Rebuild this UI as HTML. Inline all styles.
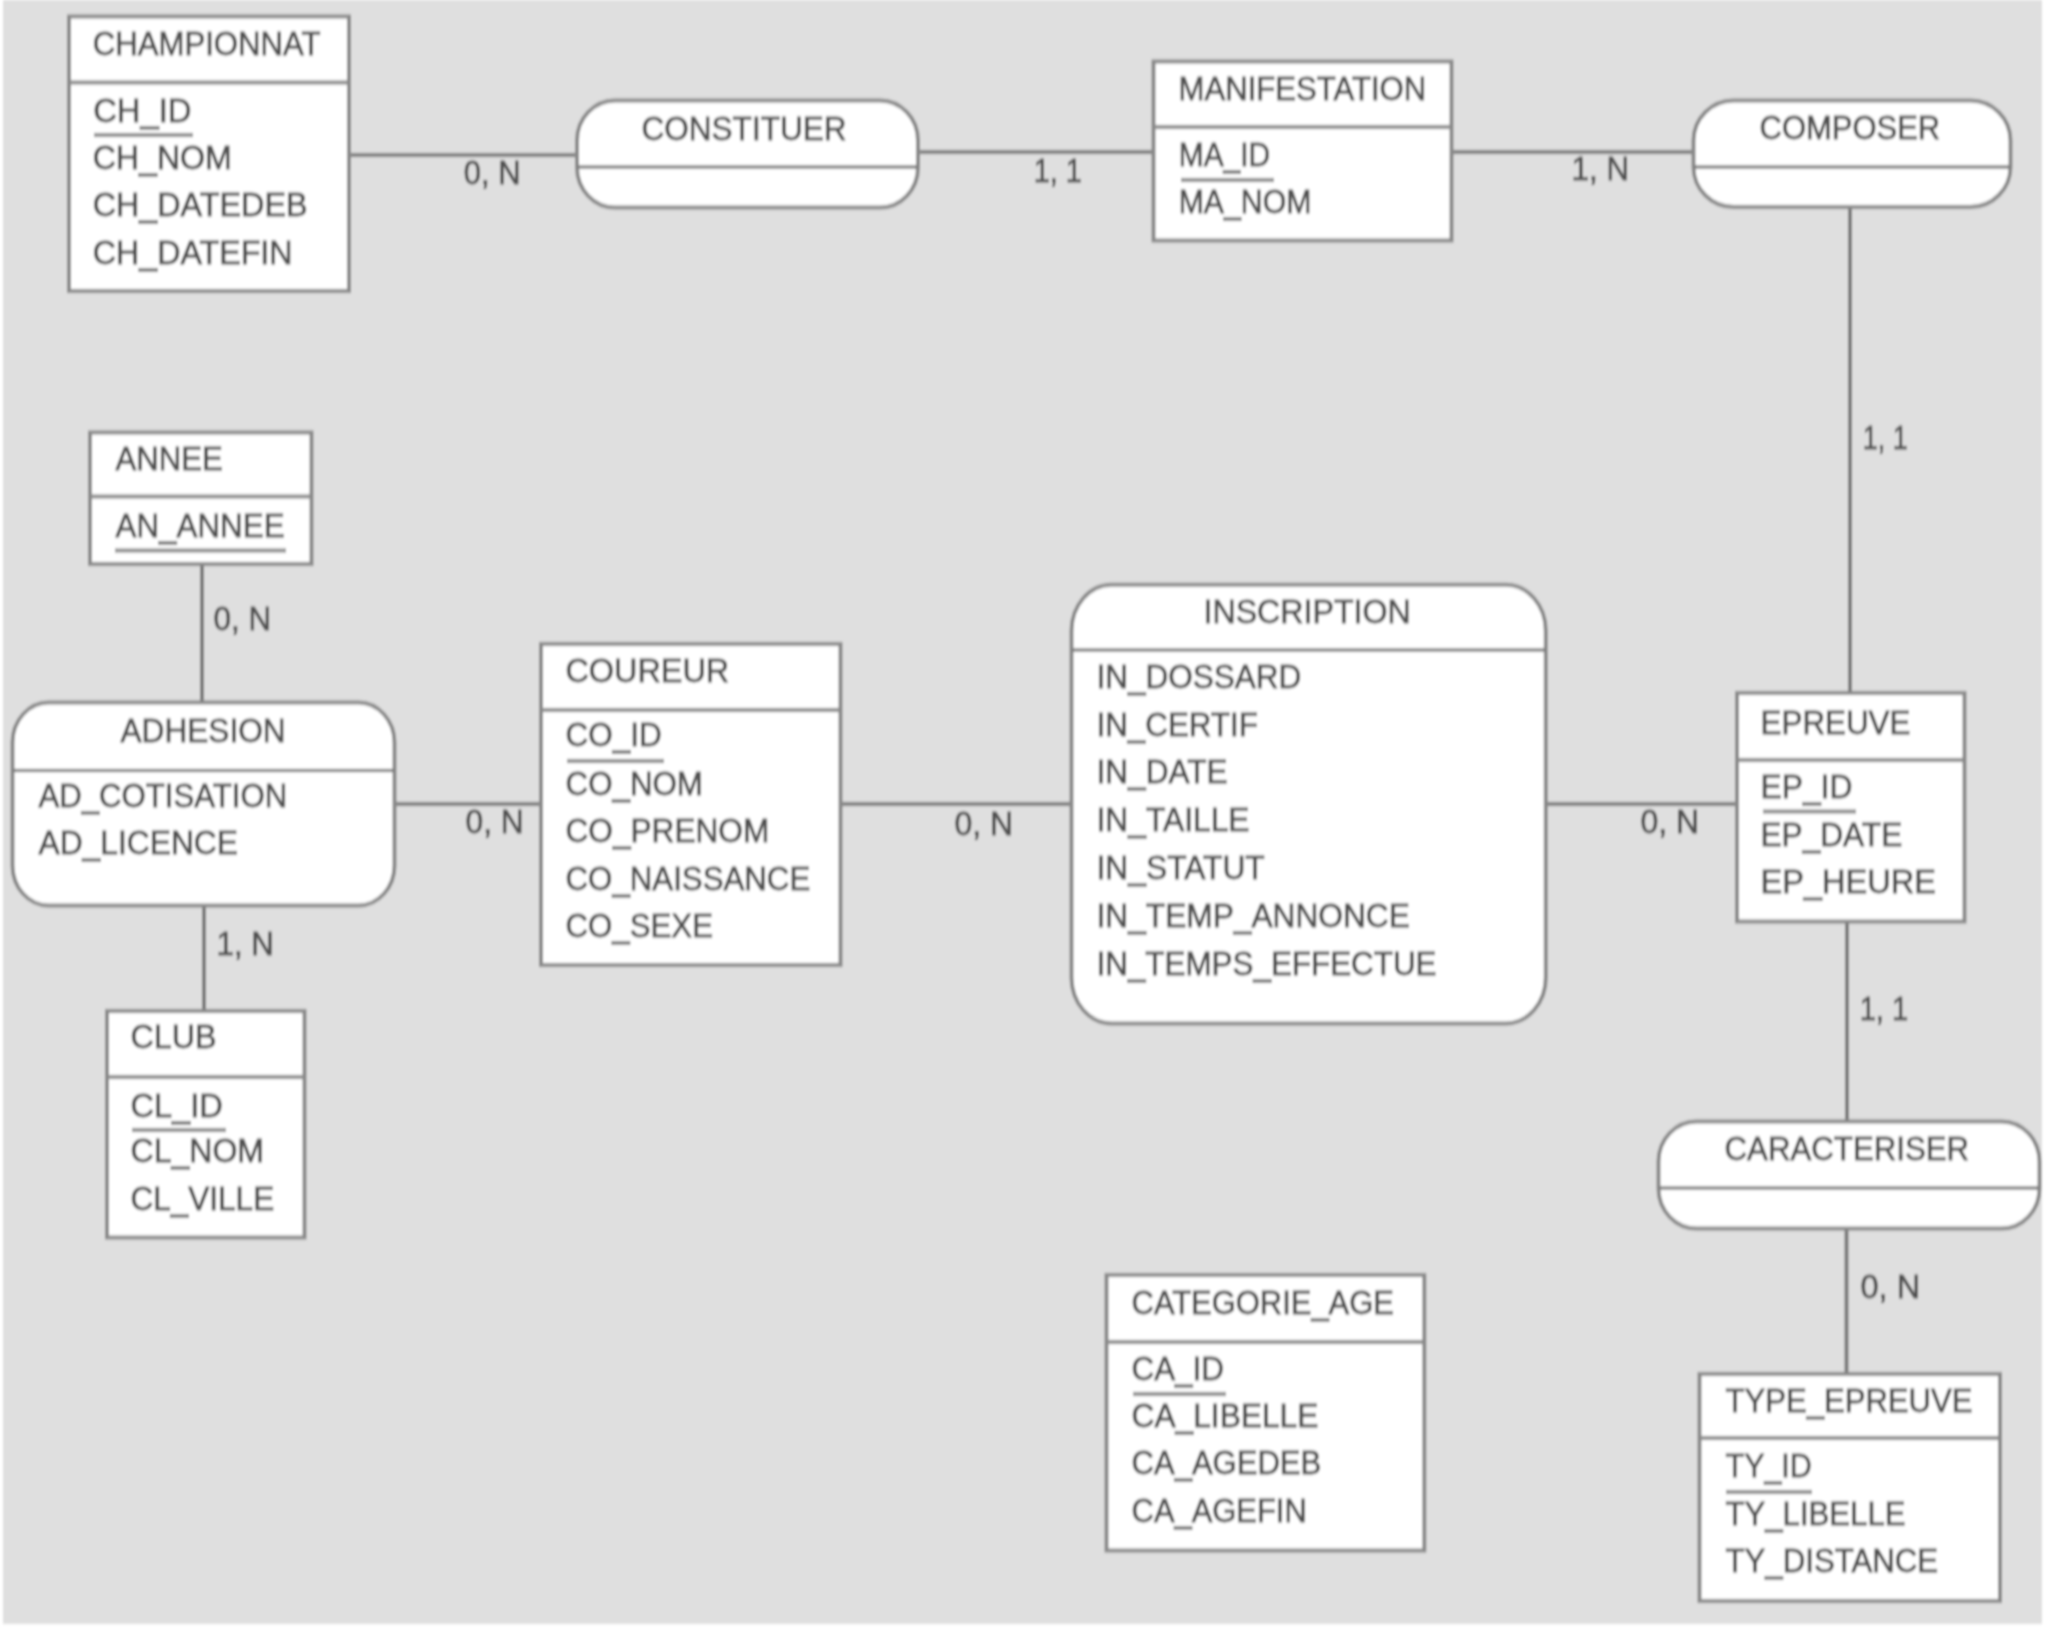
<!DOCTYPE html><html><head><meta charset="utf-8"><style>html,body{margin:0;padding:0;background:#fff;width:2051px;height:1630px;overflow:hidden}svg{display:block}text{font-family:"Liberation Sans",sans-serif;font-size:32px;fill:#505050;stroke:#505050;stroke-width:0.8px}</style></head><body>
<svg width="2051" height="1630" viewBox="0 0 2051 1630">
<defs><filter id="bl" filterUnits="userSpaceOnUse" x="0" y="0" width="2051" height="1630"><feGaussianBlur stdDeviation="0.85 1.4"/></filter></defs>
<g filter="url(#bl)">
<rect x="0" y="0" width="2051" height="1630" fill="#ffffff"/>
<rect x="3" y="0" width="2039" height="1624" fill="#dfdfdf"/>
<g stroke="#7c7c7c" stroke-width="4" fill="none">
<line x1="349.5" y1="155" x2="578.5" y2="155"/>
<line x1="916.5" y1="152" x2="1153.5" y2="152"/>
<line x1="1451.5" y1="152" x2="1694.5" y2="152"/>
<line x1="1850" y1="206.5" x2="1850" y2="693.5"/>
<line x1="202" y1="563.5" x2="202" y2="703.5"/>
<line x1="204" y1="904.5" x2="204" y2="1011.5"/>
<line x1="393.5" y1="804" x2="541.5" y2="804"/>
<line x1="839.5" y1="804" x2="1072.5" y2="804"/>
<line x1="1545.5" y1="804" x2="1737.5" y2="804"/>
<line x1="1847" y1="920.5" x2="1847" y2="1122.5"/>
<line x1="1846.5" y1="1227.5" x2="1846.5" y2="1374.5"/>
</g>
<g stroke="#8a8a8a" stroke-width="4" fill="#ffffff">
<rect x="69" y="16.5" width="280" height="274.5"/>
<line x1="69" y1="82.5" x2="349" y2="82.5"/>
<line x1="94" y1="135" x2="193" y2="135"/>
<rect x="1153.5" y="61.5" width="298.0" height="179.0"/>
<line x1="1153.5" y1="127" x2="1451.5" y2="127"/>
<line x1="1181" y1="180" x2="1274" y2="180"/>
<rect x="90" y="432.5" width="221.5" height="131.5"/>
<line x1="90" y1="496.6" x2="311.5" y2="496.6"/>
<line x1="115" y1="550.6" x2="286" y2="550.6"/>
<rect x="107" y="1011" width="197.5" height="226.5"/>
<line x1="107" y1="1077" x2="304.5" y2="1077"/>
<line x1="132" y1="1130" x2="226" y2="1130"/>
<rect x="541" y="644" width="299.5" height="321"/>
<line x1="541" y1="710" x2="840.5" y2="710"/>
<line x1="567" y1="761" x2="664" y2="761"/>
<rect x="1737" y="693" width="227.5" height="228.5"/>
<line x1="1737" y1="760" x2="1964.5" y2="760"/>
<line x1="1763" y1="811.5" x2="1856" y2="811.5"/>
<rect x="1106.5" y="1275" width="317.79999999999995" height="275.5"/>
<line x1="1106.5" y1="1342" x2="1424.3" y2="1342"/>
<line x1="1133" y1="1394" x2="1226" y2="1394"/>
<rect x="1699.5" y="1374" width="300.5" height="227"/>
<line x1="1699.5" y1="1438" x2="2000" y2="1438"/>
<line x1="1726" y1="1492" x2="1812" y2="1492"/>
<rect x="577" y="100.5" width="341" height="107.0" rx="38" ry="40"/>
<line x1="578" y1="167" x2="917" y2="167" stroke="#6a6a6a" stroke-width="3"/>
<rect x="1693.5" y="100.5" width="317.0" height="106.5" rx="40" ry="40"/>
<line x1="1694.5" y1="167" x2="2009.5" y2="167" stroke="#6a6a6a" stroke-width="3"/>
<rect x="12.5" y="702.5" width="382.0" height="203.0" rx="36" ry="40"/>
<line x1="13.5" y1="770.5" x2="393.5" y2="770.5" stroke="#6a6a6a" stroke-width="3"/>
<rect x="1071.5" y="584.8" width="474.29999999999995" height="438.70000000000005" rx="40" ry="46"/>
<line x1="1072.5" y1="650" x2="1544.8" y2="650" stroke="#6a6a6a" stroke-width="3"/>
<rect x="1658.5" y="1121.5" width="381.0" height="107.0" rx="38" ry="40"/>
<line x1="1659.5" y1="1188" x2="2038.5" y2="1188" stroke="#6a6a6a" stroke-width="3"/>
</g>
<g>
<text x="92.75" y="0" transform="translate(0,55.00) scale(1,1.05)" textLength="227.72" lengthAdjust="spacingAndGlyphs">CHAMPIONNAT</text>
<text x="93.20" y="0" transform="translate(0,122.00) scale(1,1.05)" textLength="98.34" lengthAdjust="spacingAndGlyphs">CH_ID</text>
<text x="92.69" y="0" transform="translate(0,169.00) scale(1,1.05)" textLength="139.09" lengthAdjust="spacingAndGlyphs">CH_NOM</text>
<text x="92.68" y="0" transform="translate(0,216.00) scale(1,1.05)" textLength="214.82" lengthAdjust="spacingAndGlyphs">CH_DATEDEB</text>
<text x="92.69" y="0" transform="translate(0,264.00) scale(1,1.05)" textLength="199.86" lengthAdjust="spacingAndGlyphs">CH_DATEFIN</text>
<text x="641.53" y="0" transform="translate(0,140.00) scale(1,1.05)" textLength="204.96" lengthAdjust="spacingAndGlyphs">CONSTITUER</text>
<text x="1178.58" y="0" transform="translate(0,100.00) scale(1,1.05)" textLength="247.65" lengthAdjust="spacingAndGlyphs">MANIFESTATION</text>
<text x="1178.69" y="0" transform="translate(0,166.00) scale(1,1.05)" textLength="91.55" lengthAdjust="spacingAndGlyphs">MA_ID</text>
<text x="1178.66" y="0" transform="translate(0,213.00) scale(1,1.05)" textLength="132.75" lengthAdjust="spacingAndGlyphs">MA_NOM</text>
<text x="1759.57" y="0" transform="translate(0,139.00) scale(1,1.05)" textLength="180.57" lengthAdjust="spacingAndGlyphs">COMPOSER</text>
<text x="115.50" y="0" transform="translate(0,470.00) scale(1,1.05)" textLength="107.22" lengthAdjust="spacingAndGlyphs">ANNEE</text>
<text x="115.50" y="0" transform="translate(0,537.00) scale(1,1.05)" textLength="169.07" lengthAdjust="spacingAndGlyphs">AN_ANNEE</text>
<text x="120.50" y="0" transform="translate(0,742.00) scale(1,1.05)" textLength="165.11" lengthAdjust="spacingAndGlyphs">ADHESION</text>
<text x="38.50" y="0" transform="translate(0,807.00) scale(1,1.05)" textLength="248.67" lengthAdjust="spacingAndGlyphs">AD_COTISATION</text>
<text x="38.50" y="0" transform="translate(0,854.00) scale(1,1.05)" textLength="199.45" lengthAdjust="spacingAndGlyphs">AD_LICENCE</text>
<text x="130.48" y="0" transform="translate(0,1048.00) scale(1,1.05)" textLength="86.19" lengthAdjust="spacingAndGlyphs">CLUB</text>
<text x="130.46" y="0" transform="translate(0,1117.00) scale(1,1.05)" textLength="92.37" lengthAdjust="spacingAndGlyphs">CL_ID</text>
<text x="130.50" y="0" transform="translate(0,1161.50) scale(1,1.05)" textLength="133.57" lengthAdjust="spacingAndGlyphs">CL_NOM</text>
<text x="130.53" y="0" transform="translate(0,1210.00) scale(1,1.05)" textLength="143.63" lengthAdjust="spacingAndGlyphs">CL_VILLE</text>
<text x="565.48" y="0" transform="translate(0,682.00) scale(1,1.05)" textLength="163.73" lengthAdjust="spacingAndGlyphs">COUREUR</text>
<text x="565.53" y="0" transform="translate(0,746.00) scale(1,1.05)" textLength="96.15" lengthAdjust="spacingAndGlyphs">CO_ID</text>
<text x="565.54" y="0" transform="translate(0,795.00) scale(1,1.05)" textLength="137.35" lengthAdjust="spacingAndGlyphs">CO_NOM</text>
<text x="565.52" y="0" transform="translate(0,842.00) scale(1,1.05)" textLength="203.70" lengthAdjust="spacingAndGlyphs">CO_PRENOM</text>
<text x="565.55" y="0" transform="translate(0,890.00) scale(1,1.05)" textLength="244.67" lengthAdjust="spacingAndGlyphs">CO_NAISSANCE</text>
<text x="565.55" y="0" transform="translate(0,937.00) scale(1,1.05)" textLength="147.39" lengthAdjust="spacingAndGlyphs">CO_SEXE</text>
<text x="1203.49" y="0" transform="translate(0,623.00) scale(1,1.05)" textLength="207.26" lengthAdjust="spacingAndGlyphs">INSCRIPTION</text>
<text x="1096.55" y="0" transform="translate(0,688.00) scale(1,1.05)" textLength="204.78" lengthAdjust="spacingAndGlyphs">IN_DOSSARD</text>
<text x="1096.56" y="0" transform="translate(0,736.00) scale(1,1.05)" textLength="161.29" lengthAdjust="spacingAndGlyphs">IN_CERTIF</text>
<text x="1096.54" y="0" transform="translate(0,783.00) scale(1,1.05)" textLength="131.02" lengthAdjust="spacingAndGlyphs">IN_DATE</text>
<text x="1096.52" y="0" transform="translate(0,831.00) scale(1,1.05)" textLength="153.01" lengthAdjust="spacingAndGlyphs">IN_TAILLE</text>
<text x="1096.52" y="0" transform="translate(0,878.50) scale(1,1.05)" textLength="168.26" lengthAdjust="spacingAndGlyphs">IN_STATUT</text>
<text x="1096.53" y="0" transform="translate(0,927.00) scale(1,1.05)" textLength="313.36" lengthAdjust="spacingAndGlyphs">IN_TEMP_ANNONCE</text>
<text x="1096.56" y="0" transform="translate(0,975.00) scale(1,1.05)" textLength="339.95" lengthAdjust="spacingAndGlyphs">IN_TEMPS_EFFECTUE</text>
<text x="1760.56" y="0" transform="translate(0,733.50) scale(1,1.05)" textLength="149.86" lengthAdjust="spacingAndGlyphs">EPREUVE</text>
<text x="1760.52" y="0" transform="translate(0,798.00) scale(1,1.05)" textLength="91.85" lengthAdjust="spacingAndGlyphs">EP_ID</text>
<text x="1760.54" y="0" transform="translate(0,846.00) scale(1,1.05)" textLength="141.70" lengthAdjust="spacingAndGlyphs">EP_DATE</text>
<text x="1760.45" y="0" transform="translate(0,893.00) scale(1,1.05)" textLength="175.48" lengthAdjust="spacingAndGlyphs">EP_HEURE</text>
<text x="1724.55" y="0" transform="translate(0,1160.00) scale(1,1.05)" textLength="244.61" lengthAdjust="spacingAndGlyphs">CARACTERISER</text>
<text x="1725.53" y="0" transform="translate(0,1412.00) scale(1,1.05)" textLength="246.95" lengthAdjust="spacingAndGlyphs">TYPE_EPREUVE</text>
<text x="1725.55" y="0" transform="translate(0,1477.00) scale(1,1.05)" textLength="86.26" lengthAdjust="spacingAndGlyphs">TY_ID</text>
<text x="1725.53" y="0" transform="translate(0,1525.00) scale(1,1.05)" textLength="179.95" lengthAdjust="spacingAndGlyphs">TY_LIBELLE</text>
<text x="1725.53" y="0" transform="translate(0,1571.50) scale(1,1.05)" textLength="212.56" lengthAdjust="spacingAndGlyphs">TY_DISTANCE</text>
<text x="1131.57" y="0" transform="translate(0,1314.00) scale(1,1.05)" textLength="262.35" lengthAdjust="spacingAndGlyphs">CATEGORIE_AGE</text>
<text x="1131.54" y="0" transform="translate(0,1380.00) scale(1,1.05)" textLength="92.39" lengthAdjust="spacingAndGlyphs">CA_ID</text>
<text x="1131.52" y="0" transform="translate(0,1427.00) scale(1,1.05)" textLength="186.83" lengthAdjust="spacingAndGlyphs">CA_LIBELLE</text>
<text x="1131.56" y="0" transform="translate(0,1474.00) scale(1,1.05)" textLength="189.72" lengthAdjust="spacingAndGlyphs">CA_AGEDEB</text>
<text x="1131.57" y="0" transform="translate(0,1521.60) scale(1,1.05)" textLength="175.23" lengthAdjust="spacingAndGlyphs">CA_AGEFIN</text>
<text x="463.83" y="0" transform="translate(0,184.00) scale(1,1.05)" textLength="56.77" lengthAdjust="spacingAndGlyphs">0, N</text>
<text x="1033.70" y="0" transform="translate(0,182.00) scale(1,1.05)" textLength="48.04" lengthAdjust="spacingAndGlyphs">1, 1</text>
<text x="1571.54" y="0" transform="translate(0,180.00) scale(1,1.05)" textLength="57.60" lengthAdjust="spacingAndGlyphs">1, N</text>
<text x="1862.82" y="0" transform="translate(0,449.00) scale(1,1.05)" textLength="44.84" lengthAdjust="spacingAndGlyphs">1, 1</text>
<text x="213.52" y="0" transform="translate(0,630.00) scale(1,1.05)" textLength="57.62" lengthAdjust="spacingAndGlyphs">0, N</text>
<text x="216.55" y="0" transform="translate(0,955.00) scale(1,1.05)" textLength="57.27" lengthAdjust="spacingAndGlyphs">1, N</text>
<text x="465.51" y="0" transform="translate(0,833.00) scale(1,1.05)" textLength="58.15" lengthAdjust="spacingAndGlyphs">0, N</text>
<text x="954.50" y="0" transform="translate(0,835.00) scale(1,1.05)" textLength="58.69" lengthAdjust="spacingAndGlyphs">0, N</text>
<text x="1640.50" y="0" transform="translate(0,833.00) scale(1,1.05)" textLength="58.69" lengthAdjust="spacingAndGlyphs">0, N</text>
<text x="1859.68" y="0" transform="translate(0,1020.00) scale(1,1.05)" textLength="48.57" lengthAdjust="spacingAndGlyphs">1, 1</text>
<text x="1860.48" y="0" transform="translate(0,1298.00) scale(1,1.05)" textLength="59.75" lengthAdjust="spacingAndGlyphs">0, N</text>
</g>
</g>
</svg></body></html>
